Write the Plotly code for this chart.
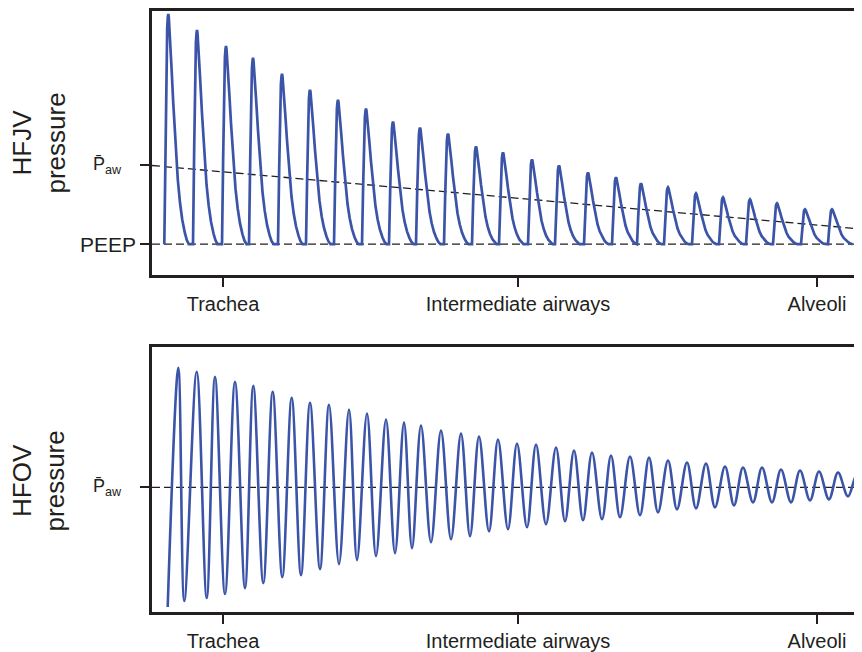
import plotly.graph_objects as go

# ---------------- data ----------------
# Top panel (HFJV): jet pulses along the airway (x = position along airway)
HFJV_PEAK_X = [168.3, 197, 226, 253, 282, 310, 338, 366, 393, 420, 448, 476, 503,
               532, 559, 588, 616, 641, 668, 696, 723, 750, 777, 805, 832]
HFJV_PEAK_P = [23.1, 21.5, 19.9, 18.7, 17.1, 15.5, 14.5, 13.6, 12.3, 11.7, 11.1, 9.8, 9.2,
               8.5, 7.9, 7.2, 6.7, 6.1, 5.7, 5.1, 4.7, 4.5, 4.1, 3.5, 3.5]
# Shape of one jet pulse (offset from peak, fraction of peak)
PULSE_DX = [-4.0, -2.8, -1.7, -1.1, -0.5, 0.0, 0.5, 1.2, 1.9, 3.3, 5.0, 6.3, 7.6, 9.5,
            11.7, 14.0, 16.5, 18.5, 20.5]
PULSE_FRAC = [0.0, 0.45, 0.86, 0.94, 0.985, 1.0, 0.985, 0.94, 0.88, 0.76, 0.61, 0.50, 0.39,
              0.28, 0.18, 0.105, 0.05, 0.018, 0.0]
# Mean airway pressure line (start, end) and PEEP level
HFJV_PAW_X = [152, 853]
HFJV_PAW_P = [7.9, 1.6]
PEEP = 0.0
HFJV_PAW_TICK = 7.9

# Bottom panel (HFOV): oscillation extrema
HFOV_PEAK_X = [178.3, 196.7, 215, 235, 253.3, 272.7, 291.7, 310, 329, 349, 367, 386, 404,
               421, 441, 461, 479, 498, 517, 536, 556, 574, 592, 611, 630, 649, 668, 687,
               706, 725, 743, 762, 781, 800, 819, 838, 857]
HFOV_PEAK_P = [12.0, 11.6, 11.1, 10.6, 10.2, 9.6, 9.0, 8.5, 8.3, 7.8, 7.4, 6.8, 6.5,
               6.2, 5.7, 5.4, 5.1, 4.8, 4.4, 4.3, 4.0, 3.7, 3.5, 3.2, 3.1, 3.0, 2.7, 2.5,
               2.4, 2.1, 2.0, 2.0, 1.8, 1.7, 1.6, 1.5, 1.3]
HFOV_TROUGH_X = [167.7, 184.3, 206.7, 225, 245, 263.3, 282.3, 301, 320, 339, 357, 376, 395,
                 412, 431, 451, 470, 489, 508, 527, 546, 565, 583, 602, 620, 640, 658, 677,
                 696, 715, 734, 753, 772, 791, 810, 829, 848, 866]
HFOV_TROUGH_P = [-12.0, -11.4, -11.1, -10.7, -10.1, -9.6, -9.0, -8.8, -8.2, -7.7, -7.3, -6.9, -6.6,
                 -6.1, -5.5, -5.2, -4.9, -4.4, -4.2, -4.0, -3.7, -3.4, -3.3, -3.2, -3.0, -2.8, -2.5,
                 -2.2, -2.1, -2.0, -1.8, -1.5, -1.5, -1.5, -1.3, -1.2, -0.9, -0.8]
HFOV_PAW = 0.0

X_TICK_VALS = [223, 518, 817]
X_TICK_TEXT = ["Trachea", "Intermediate airways", "Alveoli"]

# ---------------- build curves ----------------
jx, jy = [], []
for xp, h in zip(HFJV_PEAK_X, HFJV_PEAK_P):
    for dx, fr in zip(PULSE_DX, PULSE_FRAC):
        jx.append(xp + dx)
        jy.append(PEEP + h * fr)

ox, oy = [], []
for i in range(len(HFOV_TROUGH_X)):
    ox.append(HFOV_TROUGH_X[i]); oy.append(HFOV_TROUGH_P[i])
    if i < len(HFOV_PEAK_X):
        ox.append(HFOV_PEAK_X[i]); oy.append(HFOV_PEAK_P[i])

BLUE = "#3b54a7"
INK = "#231f20"
FONT = "Liberation Sans, Arial, Helvetica, sans-serif"

fig = go.Figure()
# dashed reference lines
fig.add_trace(go.Scatter(x=[152, 862], y=[PEEP, PEEP], mode="lines",
                         line=dict(color=INK, width=1.3, dash="8px,4px"),
                         xaxis="x", yaxis="y", hoverinfo="skip"))
fig.add_trace(go.Scatter(x=HFJV_PAW_X, y=HFJV_PAW_P, mode="lines",
                         line=dict(color=INK, width=1.3, dash="8px,4px"),
                         xaxis="x", yaxis="y", hoverinfo="skip"))
fig.add_trace(go.Scatter(x=[152, 862], y=[HFOV_PAW, HFOV_PAW], mode="lines",
                         line=dict(color=INK, width=1.3, dash="8px,4px"),
                         xaxis="x2", yaxis="y2", hoverinfo="skip"))
# waveforms
fig.add_trace(go.Scatter(x=jx, y=jy, mode="lines",
                         line=dict(color=BLUE, width=2.7),
                         xaxis="x", yaxis="y"))
fig.add_trace(go.Scatter(x=ox, y=oy, mode="lines",
                         line=dict(color=BLUE, width=2.6, shape="spline", smoothing=1),
                         xaxis="x2", yaxis="y2"))

axis_common = dict(showline=True, linecolor=INK, linewidth=2.6, showgrid=False,
                   zeroline=False, ticks="outside", ticklen=9, tickwidth=2.4,
                   tickcolor=INK)
xcommon = dict(axis_common, range=[152, 862], mirror=True, tickmode="array",
               tickvals=X_TICK_VALS, ticktext=X_TICK_TEXT,
               tickfont=dict(family=FONT, size=20, color=INK))

# page body has an 8px margin, so the figure is drawn 8px smaller and offset
OFF = 8
W, H = 862 - OFF, 652 - OFF
T, B = 10 - OFF, 39
ph = H - T - B
top_dom = [(613 - 275) / ph, 1.0]
bot_dom = [0.0, (613 - 347) / ph]

fig.update_layout(
    width=W, height=H,
    margin=dict(l=152 - OFF, r=0, t=T, b=B),
    paper_bgcolor="white", plot_bgcolor="white",
    showlegend=False,
    font=dict(family=FONT, color=INK),
    xaxis=dict(xcommon, anchor="y", domain=[0, 1]),
    yaxis=dict(axis_common, range=[-3.1, 23.4], domain=top_dom, anchor="x",
               tickvals=[PEEP, HFJV_PAW_TICK], showticklabels=False),
    xaxis2=dict(xcommon, anchor="y2", domain=[0, 1]),
    yaxis2=dict(axis_common, range=[-12.5, 14.1], domain=bot_dom, anchor="x2",
                tickvals=[HFOV_PAW], showticklabels=False),
)

lab_x = (39 - 152) / 710
ann = [
    dict(text="HFJV<br>pressure", x=lab_x, y=(613 - 143) / ph, xref="paper", yref="paper",
         textangle=-90, showarrow=False, xanchor="center", yanchor="middle",
         font=dict(family=FONT, size=26, color=INK)),
    dict(text="HFOV<br>pressure", x=lab_x, y=(613 - 482) / ph, xref="paper", yref="paper",
         textangle=-90, showarrow=False, xanchor="center", yanchor="middle",
         font=dict(family=FONT, size=26, color=INK)),
    dict(text="PEEP", x=0, y=PEEP, xref="paper", yref="y", xanchor="right",
         yanchor="middle", xshift=-14, showarrow=False,
         font=dict(family=FONT, size=21, color=INK)),
    dict(text="P\u0304<sub>aw</sub>", x=0, y=HFJV_PAW_TICK, xref="paper", yref="y",
         xanchor="right", yanchor="middle", xshift=-28, showarrow=False,
         font=dict(family=FONT, size=18, color=INK)),
    dict(text="P\u0304<sub>aw</sub>", x=0, y=HFOV_PAW, xref="paper", yref="y2",
         xanchor="right", yanchor="middle", xshift=-28, showarrow=False,
         font=dict(family=FONT, size=18, color=INK)),
]
fig.update_layout(annotations=ann)

fig.write_html("out.html")
